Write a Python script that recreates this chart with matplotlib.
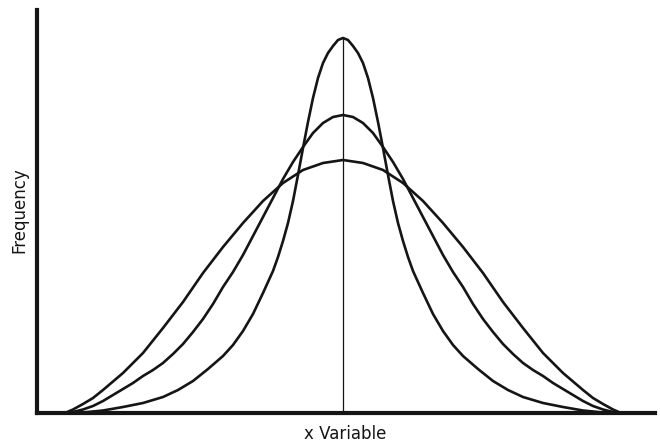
import matplotlib
matplotlib.use("Agg")
import matplotlib.pyplot as plt

# three bell curves, as distance from the mean (px-ish units)
# and height above the axis; the drawing is symmetric so only one half is stored
flat_dx = [0, 20, 40, 60, 80, 100, 120, 140, 160, 180, 200, 220, 240, 250, 260, 270, 278]
flat_h = [253, 250, 243, 230, 212, 190, 166, 140, 111, 85, 60, 40, 23, 15, 9, 3.5, 0]

mid_dx = [0, 10, 20, 30, 40, 50, 60, 70, 80, 90, 100, 110, 120, 130, 140, 150, 160, 170, 180,
          190, 200, 210, 220, 230, 240, 250, 260, 270, 277]
mid_h = [298, 296, 290, 280, 266, 251, 234, 215, 196, 177, 158, 141, 126, 109, 94, 81, 69, 59, 50,
         43, 37, 30, 24, 18, 12, 7, 3.5, 1, 0]

tall_dx = [0, 5, 10, 15, 20, 25, 30, 35, 40, 45, 50, 55, 60, 65, 70, 80, 90, 100, 110, 120,
           135, 150, 165, 180, 200, 220, 240, 260, 277]
tall_h = [375, 373, 367, 360, 350, 335, 315, 291, 265, 238, 212, 190, 172, 156, 142, 120, 99, 82, 68, 57,
          44, 32, 23, 16, 10, 6, 2.5, 0.5, 0]

x_label = "x Variable"
y_label = "Frequency"


def mirror(dx, h):
    xs = [-d for d in dx[::-1]] + dx[1:]
    ys = h[::-1] + h[1:]
    return xs, ys


fig = plt.figure(figsize=(6.6, 4.44), dpi=100)
ax = fig.add_axes([37 / 660, 31 / 444, 618 / 660, 403 / 444])

ink = "#151515"
for dx, h in [(flat_dx, flat_h), (mid_dx, mid_h), (tall_dx, tall_h)]:
    xs, ys = mirror(dx, h)
    ax.plot(xs, ys, color=ink, lw=1.9, solid_capstyle="round", solid_joinstyle="round", clip_on=False)

# line through the mean
ax.vlines(0, 0, max(tall_h), color=ink, lw=0.9)

ax.set_xlim(-306, 312)
ax.set_ylim(0, 403)
for s in ["top", "right"]:
    ax.spines[s].set_visible(False)
for s in ["left", "bottom"]:
    ax.spines[s].set_linewidth(3)
    ax.spines[s].set_color(ink)
    ax.spines[s].set_capstyle("projecting")
ax.set_xticks([])
ax.set_yticks([])

fig.text(345 / 660, 1 - 439 / 444, x_label, ha="center", va="baseline",
         fontsize=12, family="DejaVu Sans", color=ink)
fig.text(19.5 / 660, 1 - 210 / 444, y_label, ha="center", va="center", rotation=90,
         fontsize=12, family="DejaVu Sans", color=ink)

fig.savefig("out.png", dpi=100)
